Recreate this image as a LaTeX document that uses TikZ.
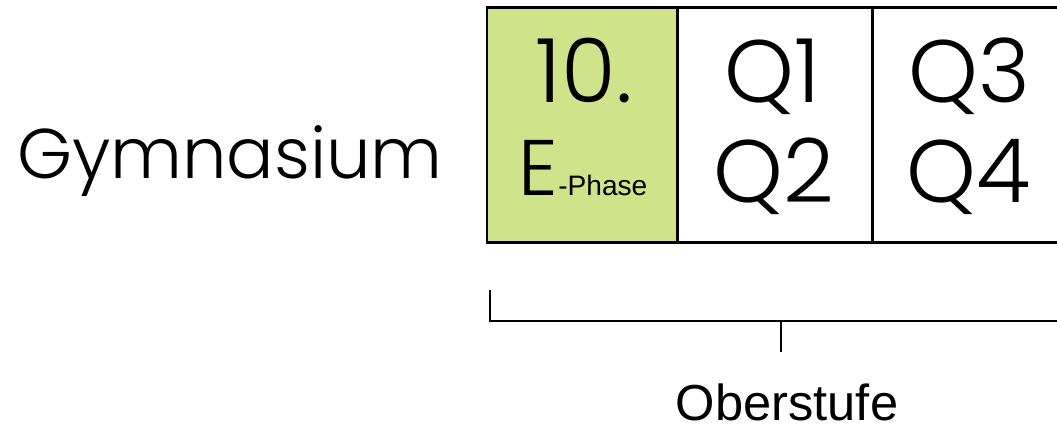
\documentclass[tikz,border=0pt]{standalone}
\usepackage{fontspec}
\usetikzlibrary{positioning}
\newfontfamily\gothic{Poppins}[UprightFont=* Light]
\newfontfamily\arial{Liberation Sans}
\definecolor{ephase}{HTML}{CFE38A}

\begin{document}
\begin{tikzpicture}[x=0.025cm, y=-0.025cm,
    box/.style={draw=black, line width=2.1pt, minimum width=#1, minimum height=5.85cm, inner sep=0pt, outer sep=0pt},
    big/.style={font=\gothic\fontsize{63}{63}\selectfont, anchor=base, inner sep=0pt},
    brace/.style={line width=1.4pt},
]
\useasboundingbox (0,0) rectangle (1057,429);

% Gymnasium label
\node[font=\gothic\fontsize{50}{50}\selectfont, anchor=base, inner sep=0pt] (gym) at (230,178) {Gymnasium};

% Boxes
\node[box=4.75cm, fill=ephase] (ep) at (582,125) {};
\node[box=4.875cm, right=0pt of ep] (qa) {};
\node[box=4.875cm, right=0pt of qa] (qb) {};

% Box texts
\node[big] (zehn) at (584,102) {10.};
\node[anchor=base, inner sep=0pt] (ephtxt) at (583,195)
    {{\gothic\fontsize{56}{56}\selectfont E}{\arial\fontsize{20}{20}\selectfont -Phase}};
\node[big] (qeins) at (772,102) {Q1};
\node[big] (qzwei) at (774,202) {Q2};
\node[big] (qdrei) at (969,102) {Q3};
\node[big] (qvier) at (969,202) {Q4};

% Bracket
\coordinate (bl) at (490,290);
\coordinate (br) at (1057,321);
\coordinate (bm) at (781,321);
\draw[brace] (bl) |- (br);
\draw[brace] (bm) -- ++(0,31);
\node[font=\arial\fontsize{36}{36}\selectfont, anchor=base, inner sep=0pt] (ober) at (787,420) {Oberstufe};

\end{tikzpicture}
\end{document}
